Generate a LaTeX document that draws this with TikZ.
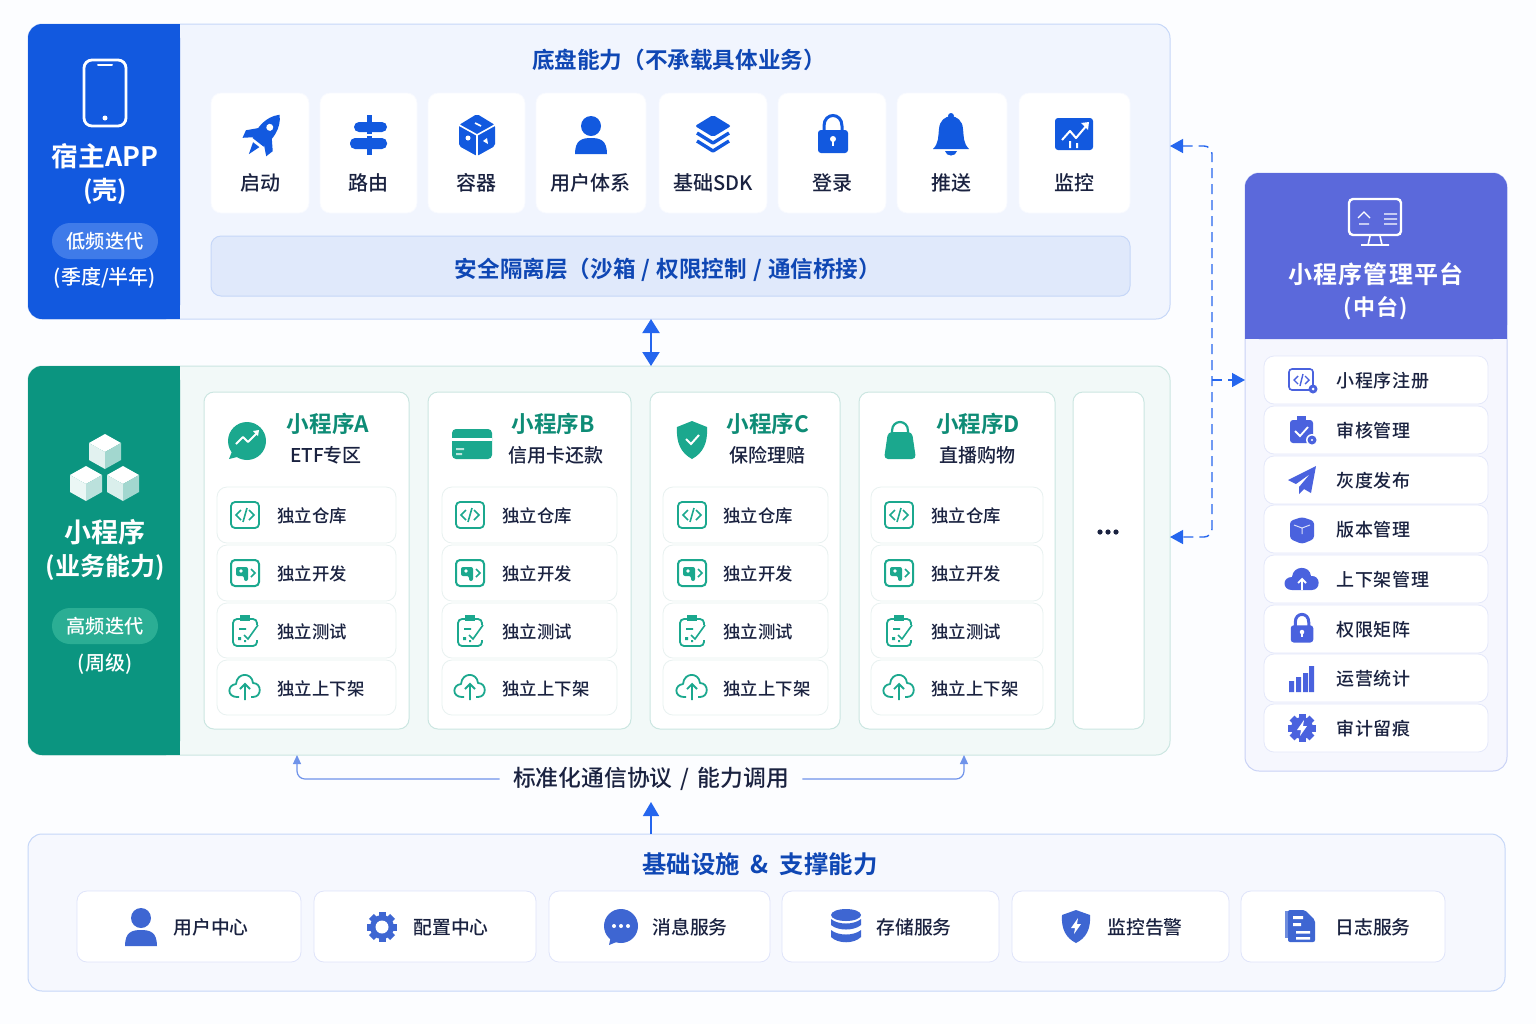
\documentclass[tikz,border=0pt]{standalone}
\usepackage{fontspec}
\usetikzlibrary{arrows.meta}
\setmainfont{Noto Sans CJK SC}
\newfontfamily\medf{Noto Sans CJK SC Medium}
\newfontfamily\medwide[LetterSpace=4]{Noto Sans CJK SC Medium}
\newfontfamily\boldf{Noto Sans CJK SC Bold}
\newfontfamily\boldwide[LetterSpace=5.5]{Noto Sans CJK SC Bold}
\definecolor{pagebg}{HTML}{FCFDFF}
\definecolor{hostblue}{HTML}{1259DF}
\definecolor{hostpill}{HTML}{3F7BE9}
\definecolor{hostfill}{HTML}{F1F5FE}
\definecolor{hostline}{HTML}{C6D7F8}
\definecolor{barfill}{HTML}{E0E9FB}
\definecolor{barline}{HTML}{C6D7F8}
\definecolor{titleblue}{HTML}{0F47B4}
\definecolor{inkdark}{HTML}{1A2240}
\definecolor{miniteal}{HTML}{0B9580}
\definecolor{minipill}{HTML}{2BAE94}
\definecolor{minifill}{HTML}{F2F9F8}
\definecolor{miniline}{HTML}{CBE6E1}
\definecolor{rowline}{HTML}{E8F1F0}
\definecolor{tealtext}{HTML}{0E8C76}
\definecolor{tealicon}{HTML}{1BA88E}
\definecolor{mgmtblue}{HTML}{5B69DB}
\definecolor{mgmtfill}{HTML}{F6F7FE}
\definecolor{mgmtline}{HTML}{C9D2F6}
\definecolor{mgmticon}{HTML}{4A62DE}
\definecolor{infrafill}{HTML}{F6F8FE}
\definecolor{infraicon}{HTML}{3E66D2}
\definecolor{linkblue}{HTML}{2566EE}
\definecolor{protoline}{HTML}{6F93EA}
\tikzset{
	x=0.5pt,y=-0.5pt,
	panelbox/.style={draw,line width=0.5pt,rounded corners=7pt,inner sep=0pt,outer sep=0pt},
	hostpanel/.style={panelbox,draw=hostline,fill=hostfill},
	minipanel/.style={panelbox,draw=miniline,fill=minifill},
	mgmtpanel/.style={panelbox,draw=mgmtline,fill=mgmtfill},
	infrapanel/.style={panelbox,draw=hostline,fill=infrafill},
	whitecard/.style={draw=#1,fill=white,line width=0.4pt,rounded corners=5pt,inner sep=0pt,outer sep=0pt},
	whitecard/.default=rowline,
	hostcard/.style={whitecard=white!50!hostfill},
	colbox/.style={whitecard=miniline,line width=0.5pt},
	mgmtrow/.style={whitecard=mgmtline!50},
	secbar/.style={panelbox,draw=barline,fill=barfill,rounded corners=5pt},
	pillbox/.style={rounded corners=9pt,inner sep=0pt,outer sep=0pt},
	caption/.style={font=\fontsize{#1}{#1}\medf,inner sep=0pt,text=white},
	bigcaption/.style={font=\fontsize{#1}{#1}\boldf,inner sep=0pt,text=white},
	toplab/.style={font=\fontsize{10}{12}\medf,text=inkdark,inner sep=0pt},
	rowlab/.style={font=\fontsize{8.7}{11}\medf,text=inkdark,inner sep=0pt,anchor=west,yshift=-0.5pt},
	infralab/.style={font=\fontsize{9.4}{11}\medf,text=inkdark,inner sep=0pt,anchor=west},
	coltitle/.style={font=\fontsize{11.3}{13}\boldf,text=tealtext,inner sep=0pt},
	colsub/.style={font=\fontsize{9.5}{12}\medf,text=inkdark,inner sep=0pt},
	mgmtlab/.style={font=\fontsize{9}{11}\medwide,text=inkdark,inner sep=0pt,anchor=west,yshift=-0.5pt},
	biglink/.style={linkblue,line width=1pt,{Triangle[length=7pt,width=8.5pt]}-{Triangle[length=7pt,width=8.5pt]}},
	uplink/.style={linkblue,line width=0.8pt,-{Triangle[length=7pt,width=8pt]}},
	dashlink/.style={linkblue,line width=0.7pt,dash pattern=on 5pt off 3pt,rounded corners=4pt},
	porthead/.style={{Triangle[length=6.5pt,width=7pt]}-{Triangle[length=6.5pt,width=7pt]}},
	protolink/.style={protoline,line width=0.6pt,rounded corners=4pt,-{Triangle[length=4.5pt,width=4pt]}},
}
% a box given by its pixel corners
\newcommand{\pxbox}[6]{\node[#1,anchor=north west,minimum width={(#5-#3)*0.5pt},minimum height={(#6-#4)*0.5pt}] (#2) at (#3,#4) {};}
% icons, all around their centre
\newcommand{\icphone}[1]{\begin{scope}[shift={(#1)}]
	\draw[white,line width=1.4pt,rounded corners=4pt] (-21,-33) rectangle (21,33);
	\draw[white,line width=1pt,line cap=round] (-7,-28) -- (7,-28);
	\fill[white] (0,25) circle (2.5);
\end{scope}}
\newcommand{\icrocket}[2]{\begin{scope}[shift={(#1)},rotate=-38]
	\fill[#2] (0,-27) .. controls (10,-17) and (10,-3) .. (7,8) -- (-7,8) .. controls (-10,-3) and (-10,-17) .. (0,-27) -- cycle;
	\fill[#2] (-8,-4) -- (-17,6) -- (-15,14) -- (-7,7) -- cycle;
	\fill[#2] (8,-4) -- (17,6) -- (15,14) -- (7,7) -- cycle;
	\fill[#2] (-4,11) -- (4,11) -- (0,23) -- cycle;
	\fill[white] (0,-11) circle (3.5);
\end{scope}}
\newcommand{\icsign}[2]{\begin{scope}[shift={(#1)}]
	\fill[#2] (-2.5,-20) rectangle (2.5,20);
	\fill[#2,rounded corners=2.5pt] (-15,-13) rectangle (18,-3);
	\fill[#2,rounded corners=2.5pt] (-19,3) rectangle (18,14);
	\draw[white,line width=0.7pt] (-19,0) -- (19,0);
\end{scope}}
\newcommand{\iccube}[2]{\begin{scope}[shift={(#1)}]
	\fill[#2,rounded corners=1pt] (0,-21) -- (18,-10) -- (18,11) -- (0,21) -- (-18,11) -- (-18,-10) -- cycle;
	\draw[white,line width=0.8pt] (-18,-10) -- (0,0) -- (18,-10) (0,0) -- (0,21);
	\draw[white,line width=0.8pt] (-2,-12) -- (4,-9);
	\fill[white] (-9,3) circle (2.5) (10,3) -- (6,6) -- (11,9) -- cycle;
\end{scope}}
\newcommand{\icperson}[3][1]{\begin{scope}[shift={(#2)},scale=#1]
	\fill[#3] (0,-9) circle (10);
	\fill[#3] (-16,19) .. controls (-16,5) and (-9,3) .. (0,3) .. controls (9,3) and (16,5) .. (16,19) -- cycle;
\end{scope}}
\newcommand{\iclayers}[2]{\begin{scope}[shift={(#1)}]
	\fill[#2,rounded corners=1pt] (0,-20) -- (18,-9) -- (0,2) -- (-18,-9) -- cycle;
	\draw[#2,line width=1.7pt,line join=round] (-16,-2) -- (0,8) -- (16,-2);
	\draw[#2,line width=1.7pt,line join=round] (-16,6) -- (0,16) -- (16,6);
\end{scope}}
\newcommand{\iclock}[3][1]{\begin{scope}[shift={(#2)},scale=#1]
	\draw[#3,line width=1.5pt] (-9,-3) -- (-9,-9) .. controls (-9,-23) and (9,-23) .. (9,-9) -- (9,-3);
	\fill[#3,rounded corners=1.5pt] (-15,-5) rectangle (15,18);
	\fill[white] (0,4) circle (3);
	\fill[white] (-1.3,4) rectangle (1.3,11);
\end{scope}}
\newcommand{\icbell}[2]{\begin{scope}[shift={(#1)}]
	\fill[#2] (0,-20) circle (3);
	\fill[#2] (-18,13) .. controls (-12,7) and (-13,1) .. (-12,-7) .. controls (-11,-24) and (11,-24) .. (12,-7) .. controls (13,1) and (12,7) .. (18,13) -- cycle;
	\fill[#2] (-6,15) -- (6,15) .. controls (5,21) and (-5,21) .. (-6,15) -- cycle;
\end{scope}}
\newcommand{\icchart}[2]{\begin{scope}[shift={(#1)}]
	\fill[#2,rounded corners=1.5pt] (-19,-16) rectangle (19,16);
	\draw[white,line width=1pt,line join=round] (-12,6) -- (-4,-3) -- (2,4) -- (13,-9);
	\fill[white] (7,-11) -- (15,-12) -- (14,-4) -- cycle;
	\fill[white] (-5,7) rectangle (-3,14) (2,9) rectangle (4,14);
\end{scope}}
\newcommand{\iccode}[2]{\begin{scope}[shift={(#1)}]
	\draw[#2,line width=0.9pt,rounded corners=2pt] (-14,-13) rectangle (14,13);
	\draw[#2,line width=0.8pt] (-4,-5) -- (-9,0) -- (-4,5) (4,-5) -- (9,0) -- (4,5) (2,-7) -- (-2,7);
\end{scope}}
\newcommand{\icdev}[2]{\begin{scope}[shift={(#1)}]
	\draw[#2,line width=1pt,rounded corners=2pt] (-14,-13) rectangle (14,13);
	\fill[#2,rounded corners=1pt] (-9,-6) -- (3,-6) -- (3,8) -- (-1,8) -- (-1,3) -- (-9,3) -- cycle;
	\fill[white] (-4,-2) circle (1.8);
	\draw[#2,line width=0.8pt] (6,-4) -- (10,0) -- (6,4);
\end{scope}}
\newcommand{\ictest}[2]{\begin{scope}[shift={(#1)}]
	\draw[#2,line width=0.9pt,rounded corners=2pt] (-12,-11) rectangle (12,16);
	\fill[#2] (-5,-15) rectangle (5,-9);
	\fill[white] (9,-5) rectangle (14,10);
	\draw[#2,line width=0.8pt] (-6,-1) -- (1,-1) (-1,5) -- (3,9) -- (13,-5);
	\fill[#2] (-7,7) rectangle (-4,10) (-1,10) rectangle (1,12);
\end{scope}}
\newcommand{\iccloudup}[2]{\begin{scope}[shift={(#1)}]
	\draw[#2,line width=0.9pt,line join=round] (-6,11) -- (-8,11) .. controls (-18,11) and (-18,-1) .. (-9,-2) .. controls (-8,-14) and (7,-14) .. (8,-3) .. controls (17,-3) and (17,11) .. (8,11) -- (6,11);
	\draw[#2,line width=0.9pt] (0,14) -- (0,-2) (-5,3) -- (0,-2) -- (5,3);
\end{scope}}
\newcommand{\icbubble}[2]{\begin{scope}[shift={(#1)}]
	\fill[#2] (0,0) circle (19);
	\fill[#2] (-14,8) -- (-18,18) -- (-6,15) -- cycle;
	\draw[white,line width=0.9pt,line join=round] (-11,3) -- (-4,-4) -- (1,1) -- (10,-8);
	\fill[white] (6,-10) -- (12,-11) -- (11,-5) -- cycle;
\end{scope}}
\newcommand{\iccard}[2]{\begin{scope}[shift={(#1)}]
	\fill[#2,rounded corners=2pt] (-20,-15) rectangle (20,15);
	\fill[white] (-20,-6) rectangle (20,-3.5);
	\fill[white!70!#2] (-16,4) rectangle (-8,6) (-16,9) rectangle (-10,11);
\end{scope}}
\newcommand{\icshieldok}[2]{\begin{scope}[shift={(#1)}]
	\fill[#2] (0,-19) -- (15,-13) .. controls (16,3) and (11,13) .. (0,19) .. controls (-11,13) and (-16,3) .. (-15,-13) -- cycle;
	\draw[white,line width=1pt] (-6,-1) -- (-1,4) -- (7,-5);
\end{scope}}
\newcommand{\icbag}[2]{\begin{scope}[shift={(#1)}]
	\draw[#2,line width=1.1pt] (-8,-6) -- (-8,-10) .. controls (-8,-22) and (8,-22) .. (8,-10) -- (8,-6);
	\fill[#2,rounded corners=2pt] (-12,-9) -- (12,-9) -- (16,18) -- (-16,18) -- cycle;
\end{scope}}
\newcommand{\icmonitor}[1]{\begin{scope}[shift={(#1)}]
	\draw[white,line width=1.2pt,rounded corners=2pt] (-26,-23) rectangle (26,13);
	\draw[white,line width=0.6pt] (-17,-4) -- (-11,-10) -- (-5,-4) (-16,2) -- (-6,2) (9,-8) -- (22,-8) (9,-3) -- (22,-3) (9,2) -- (22,2);
	\draw[white,line width=0.8pt] (-14,23) -- (14,23) (-5,14) -- (-7,23) (5,14) -- (7,23);
\end{scope}}
\newcommand{\icisocube}[4]{\begin{scope}[shift={(#1)}]
	\fill[#2] (0,-17) -- (16,-8) -- (0,1) -- (-16,-8) -- cycle;
	\fill[#3] (-16,-8) -- (0,1) -- (0,18) -- (-16,9) -- cycle;
	\fill[#4] (16,-8) -- (0,1) -- (0,18) -- (16,9) -- cycle;
\end{scope}}
\newcommand{\icplane}[2]{\begin{scope}[shift={(#1)}]
	\fill[#2] (14,-14) -- (-14,0) -- (-6,4) -- (8,-6) -- (-3,7) -- (-3,14) -- (2,9) -- (9,13) -- cycle;
\end{scope}}
\newcommand{\iccloudfill}[2]{\begin{scope}[shift={(#1)}]
	\fill[#2] (-10,11) .. controls (-20,11) and (-20,-2) .. (-10,-2) .. controls (-9,-14) and (8,-14) .. (9,-3) .. controls (19,-4) and (19,11) .. (10,11) -- cycle;
	\draw[white,line width=0.9pt] (0,11) -- (0,1) (-4,4) -- (0,0) -- (4,4);
\end{scope}}
\newcommand{\icbars}[2]{\begin{scope}[shift={(#1)}]
	\fill[#2] (-13,2) rectangle (-8,13) (-6,-2) rectangle (-1,13) (1,-6) rectangle (6,13) (7,-13) rectangle (12,13);
\end{scope}}
\newcommand{\icgear}[3]{\begin{scope}[shift={(#1)}]
	\foreach \a in {0,45,...,315} {\fill[#3,rotate=\a] (-3.5,-#2-3) rectangle (3.5,-#2+4);}
	\fill[#3] (0,0) circle (#2);
\end{scope}}
\newcommand{\icbolt}[1]{\fill[white,shift={(#1)}] (2,-8) -- (-5,2) -- (-1,2) -- (-2,8) -- (5,-2) -- (1,-2) -- cycle;}
\newcommand{\icdb}[2]{\begin{scope}[shift={(#1)}]
	\fill[#2] (0,-11) ellipse (15 and 6);
	\fill[#2] (-15,-7) .. controls (-8,-1) and (8,-1) .. (15,-7) -- (15,-1) .. controls (8,5) and (-8,5) .. (-15,-1) -- cycle;
	\fill[#2] (-15,4) .. controls (-8,10) and (8,10) .. (15,4) -- (15,11) .. controls (8,18) and (-8,18) .. (-15,11) -- cycle;
\end{scope}}
\newcommand{\icshield}[2]{\begin{scope}[shift={(#1)}]
	\fill[#2] (0,-16) -- (14,-11) .. controls (15,3) and (10,12) .. (0,17) .. controls (-10,12) and (-15,3) .. (-14,-11) -- cycle;
	\icbolt{0,0}
\end{scope}}
\newcommand{\icdoc}[2]{\begin{scope}[shift={(#1)}]
	\fill[#2!75] (-14,-15) rectangle (4,12);
	\fill[#2,rounded corners=1pt] (-11,-16) -- (6,-16) -- (16,-6) -- (16,16) -- (-11,16) -- cycle;
	\fill[white] (-6,-10) rectangle (4,-7) (-6,-3) rectangle (2,0) (-3,5) rectangle (11,7.5) (-3,11) rectangle (11,13.5);
\end{scope}}
\begin{document}
\begin{tikzpicture}
	\useasboundingbox (0,0) rectangle (1536,1024);
	\fill[pagebg] (0,0) rectangle (1536,1024);
	% the host shell
	\pxbox{hostpanel}{host}{28}{24}{1170}{319}
	\fill[hostblue,rounded corners=7pt] (28,24) rectangle (180,319);
	\fill[hostblue] (160,24) rectangle (180,319);
	\icphone{105,93}
	\node[bigcaption=13.4] (hostname) at (105,156) {宿主APP};
	\node[bigcaption=12.5] (hostkind) at (105,191) {(壳)};
	\pxbox{pillbox,fill=hostpill}{hostpill}{52}{223}{158}{259}
	\node[caption=9.6] (hostrate) at (hostpill) {低频迭代};
	\node[caption=10] (hostterm) at (105,278) {(季度/半年)};
	\node[font=\fontsize{11.3}{13}\boldf,text=titleblue,inner sep=0pt] (hosttitle) at (679,60) {底盘能力（不承载具体业务）};
	% the base capabilities
	\foreach \n/\xl/\xr/\xc/\t in {c1/211/309/260/启动,c2/320/417/368/路由,c3/428/525/476/容器,c4/536/646/590/用户体系,c5/659/767/713/基础SDK,c6/778/886/832/登录,c7/897/1007/951/推送,c8/1019/1130/1074/监控} {
		\pxbox{hostcard}{\n}{\xl}{93}{\xr}{213}
		\node[toplab] (lab\n) at (\xc,183) {\t};
	}
	\icrocket{263,136}{hostblue}
	\icsign{369,135}{hostblue}
	\iccube{477,135}{hostblue}
	\icperson{591,135}{hostblue}
	\iclayers{713,135}{hostblue}
	\iclock{833,135}{hostblue}
	\icbell{951,136}{hostblue}
	\icchart{1074,134}{hostblue}
	\pxbox{secbar}{secure}{211}{236}{1130}{296}
	\node[font=\fontsize{11.3}{13}\boldf,text=titleblue,inner sep=0pt] (securelab) at (668,269.5) {安全隔离层（沙箱\kern.5pt\ /\kern.5pt\ 权限控制\kern.5pt\ /\kern.5pt\ 通信桥接）};
	% the mini programs
	\pxbox{minipanel}{mini}{28}{366}{1170}{755}
	\fill[miniteal,rounded corners=7pt] (28,366) rectangle (180,755);
	\fill[miniteal] (160,366) rectangle (180,755);
	\icisocube{105,451}{white}{white!88!miniteal}{white!62!miniteal}
	\icisocube{86,483}{white}{white!92!miniteal}{white!72!miniteal}
	\icisocube{123,483}{white}{white!85!miniteal}{white!62!miniteal}
	\node[bigcaption=13.5] (mininame) at (105,532) {小程序};
	\node[bigcaption=12.5] (minikind) at (105,567) {(业务能力)};
	\pxbox{pillbox,fill=minipill}{minipill}{52}{608}{158}{644}
	\node[caption=9.6] (minirate) at (minipill) {高频迭代};
	\node[caption=10] (miniterm) at (105,664) {(周级)};
	\foreach \c/\xa/\xb/\xl/\xr/\xi/\xt/\xh/\xs/\t/\u in {a/204/409/217/396/245/277/328/326/小程序A/ETF专区,b/428/631/442/617/470/502/553/556/小程序B/信用卡还款,c/650/840/663/828/692/723/768/767/小程序C/保险理赔,d/859/1055/871/1043/899/931/978/977/小程序D/直播购物} {
		\pxbox{colbox}{col\c}{\xa}{392}{\xb}{729}
		\node[coltitle] (head\c) at (\xh,424) {\t};
		\node[colsub] (sub\c) at (\xs,455) {\u};
		\pxbox{whitecard}{row\c1}{\xl}{487}{\xr}{543}
		\pxbox{whitecard}{row\c2}{\xl}{545}{\xr}{601}
		\pxbox{whitecard}{row\c3}{\xl}{603}{\xr}{658}
		\pxbox{whitecard}{row\c4}{\xl}{660}{\xr}{715}
		\iccode{\xi,515}{tealicon}
		\icdev{\xi,573}{tealicon}
		\ictest{\xi,630}{tealicon}
		\iccloudup{\xi,686}{tealicon}
		\node[rowlab] (lab\c1) at (\xt,515) {独立仓库};
		\node[rowlab] (lab\c2) at (\xt,573) {独立开发};
		\node[rowlab] (lab\c3) at (\xt,631) {独立测试};
		\node[rowlab] (lab\c4) at (\xt,688) {独立上下架};
	}
	\icbubble{247,441}{tealicon}
	\iccard{472,444}{tealicon}
	\icshieldok{692,440}{tealicon}
	\icbag{900,441}{tealicon}
	\pxbox{colbox}{colmore}{1073}{392}{1144}{729}
	\fill[inkdark] (1100,532) circle (2.6) (1108,532) circle (2.6) (1116,532) circle (2.6);
	% the management platform
	\pxbox{mgmtpanel}{mgmt}{1245}{173}{1507}{771}
	\fill[mgmtblue,rounded corners=7pt] (1245,173) rectangle (1507,339);
	\fill[mgmtblue] (1245,320) rectangle (1507,339);
	\icmonitor{1375,222}
	\node[font=\fontsize{12}{14}\boldwide,text=white,inner sep=0pt] (mgmtname) at (1376,274) {小程序管理平台};
	\node[font=\fontsize{11}{13}\boldwide,text=white,inner sep=0pt] (mgmtkind) at (1376,308) {(中台)};
	\foreach \i/\yc/\t in {1/380/小程序注册,2/430/审核管理,3/480/灰度发布,4/529/版本管理,5/579/上下架管理,6/629/权限矩阵,7/678/运营统计,8/728/审计留痕} {
		\node[mgmtrow,minimum width=112pt,minimum height=24pt] (mrow\i) at (1376,\yc) {};
		\node[mgmtlab] (mlab\i) at (1336,\yc) {\t};
	}
	\begin{scope}[shift={(1302,380)}]
		\draw[mgmticon,line width=0.8pt,rounded corners=1.5pt] (-13,-11) rectangle (11,10);
		\draw[mgmticon,line width=0.7pt] (-4,-4) -- (-8,0) -- (-4,4) (3,-4) -- (7,0) -- (3,4) (1,-6) -- (-2,6);
		\fill[mgmticon] (11,9) circle (4.5);
		\fill[white] (11,9) circle (1.5);
	\end{scope}
	\begin{scope}[shift={(1302,430)}]
		\fill[mgmticon,rounded corners=1.5pt] (-12,-10) rectangle (11,13);
		\fill[mgmticon] (-5,-14) rectangle (4,-8);
		\draw[white,line width=0.9pt] (-7,1) -- (-2,6) -- (6,-3);
		\fill[white] (10,10) circle (6);
		\fill[mgmticon] (10,10) circle (4.5);
		\fill[white] (10,10) circle (1.2);
	\end{scope}
	\icplane{1302,480}{mgmticon}
	\begin{scope}[shift={(1302,530)}]
		\fill[mgmticon,rounded corners=1.5pt] (-12,-9) -- (0,-13) -- (12,-9) -- (12,9) -- (0,14) -- (-12,9) -- cycle;
		\draw[white!80!mgmticon,line width=0.5pt] (-8,-5) -- (0,-2) -- (8,-5) (0,-2) -- (0,4);
	\end{scope}
	\iccloudfill{1302,579}{mgmticon}
	\iclock[0.75]{1302,629}{mgmticon}
	\icbars{1302,679}{mgmticon}
	\begin{scope}[shift={(1302,728)}]
		\icgear{0,0}{11}{mgmticon}
		\icbolt{0,0}
	\end{scope}
	% the infrastructure
	\pxbox{infrapanel}{infra}{28}{834}{1505}{991}
	\node[font=\fontsize{12.2}{14}\boldf,text=titleblue,inner sep=0pt] (infratitle) at (760,864) {基础设施\kern2.7pt\ \&\kern2.7pt\ 支撑能力};
	\foreach \n/\xl/\xr/\xt/\t in {s1/77/301/173/用户中心,s2/314/536/413/配置中心,s3/549/770/652/消息服务,s4/782/999/876/存储服务,s5/1012/1229/1107/监控告警,s6/1241/1445/1335/日志服务} {
		\pxbox{whitecard=mgmtline!60}{\n}{\xl}{891}{\xr}{962}
		\node[infralab] (lab\n) at (\xt,927) {\t};
	}
	\icperson{141,927}{infraicon}
	\begin{scope}[shift={(382,927)}]
		\icgear{0,0}{12}{infraicon}
		\fill[white] (0,0) circle (6.5);
	\end{scope}
	\begin{scope}[shift={(621,926)}]
		\fill[infraicon] (0,0) circle (17);
		\fill[infraicon] (-10,10) -- (-12,19) -- (-2,15) -- cycle;
		\fill[white] (-7,0) circle (2) (0,0) circle (2) (7,0) circle (2);
	\end{scope}
	\icdb{846,926}{infraicon}
	\icshield{1076,926}{infraicon}
	\icdoc{1299,926}{infraicon}
	% the links
	\coordinate (busX) at (651,342);
	\draw[biglink] (host.south -| busX) -- (mini.north -| busX);
	\coordinate (busT) at (1212,146);
	\coordinate (busM) at (1212,380);
	\coordinate (busB) at (1212,537);
	\draw[dashlink,porthead] (host.east |- busT) -- (busT) -- (busB) -- (mini.east |- busB);
	\draw[dashlink,-{Triangle[length=6.5pt,width=7pt]}] (busM) -- (mgmt.west |- busM);
	\node[font=\fontsize{11.4}{13}\medf,text=inkdark,inner xsep=6.5pt,inner ysep=0pt] (proto) at (651,779) {标准化通信协议\kern1.5pt\ /\kern1.5pt\ 能力调用};
	\coordinate (protoL) at (297,778);
	\coordinate (protoR) at (964,778);
	\draw[protolink] (proto.west) -| (mini.south -| protoL);
	\draw[protolink] (proto.east) -| (mini.south -| protoR);
	\coordinate (protoin) at (651,802);
	\draw[uplink] (infra.north -| busX) -- (protoin);
\end{tikzpicture}
\end{document}
